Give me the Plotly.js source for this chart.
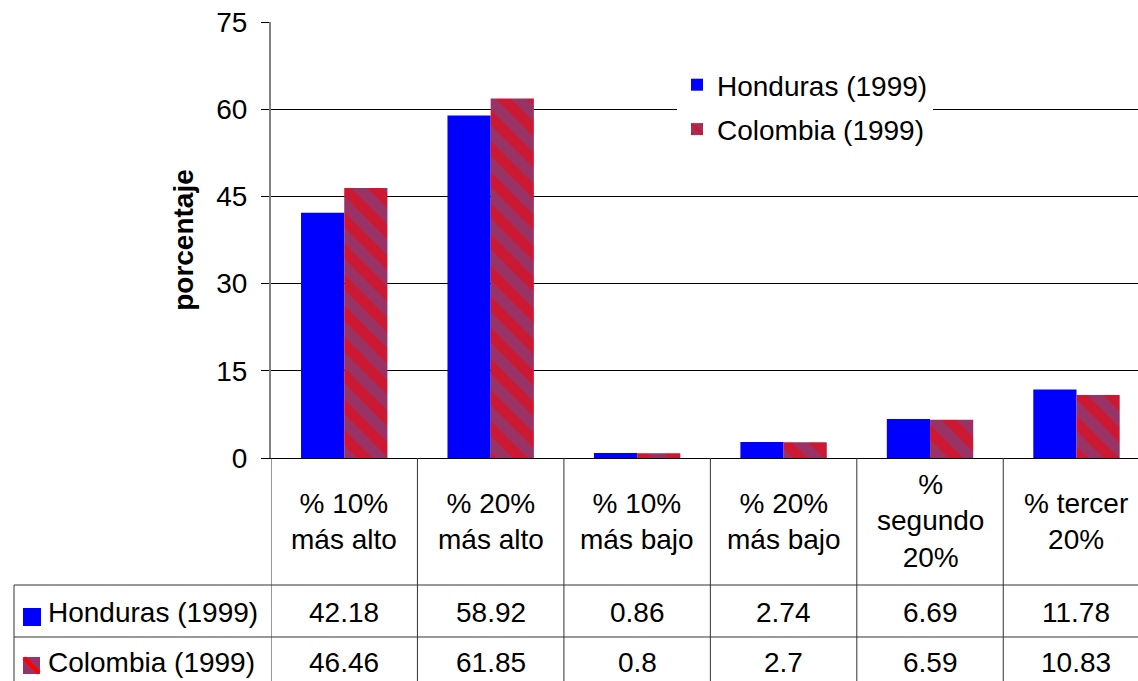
<!DOCTYPE html>
<html>
<head>
<meta charset="utf-8">
<script src="https://cdn.plot.ly/plotly-3.0.1.min.js"></script>
<style>html,body{margin:0;padding:0;background:#fff;}#chart{width:1138px;height:681px;}</style>
</head>
<body>
<div id="chart"></div>
<script>
const categories = ["% 10%<br>más alto", "% 20%<br>más alto", "% 10%<br>más bajo", "% 20%<br>más bajo", "%<br>segundo<br>20%", "% tercer<br>20%"];
const seriesNames = ["Honduras (1999)", "Colombia (1999)"];
const honduras = [42.18, 58.92, 0.86, 2.74, 6.69, 11.78];
const colombia = [46.46, 61.85, 0.8, 2.7, 6.59, 10.83];
const yTicks = [0, 15, 30, 45, 60, 75];
const yTitle = "porcentaje";

// layout geometry (pixels)
const W = 1138, H = 681;
const L = 271, T = 22, B = 458;
const PW = W - L, PH = B - T;
const px = X => (X - L) / PW;
const py = Y => (B - Y) / PH;

const FONT = "Liberation Sans, Arial, sans-serif";
const FS = 28;
const lineColor = "#333333";

const traces = [
  {
    type: "bar", name: seriesNames[0], x: categories, y: honduras,
    marker: {color: "#0000FF", line: {width: 0}},
    legendgroup: "a"
  },
  {
    type: "bar", name: seriesNames[1], x: categories, y: colombia,
    marker: {color: "#993366", line: {width: 0},
      pattern: {shape: "\\", fgcolor: "#FF0000", bgcolor: "#993366", size: 22, solidity: 0.5, fillmode: "overlay"}},
    legendgroup: "b"
  }
];

const shapes = [];
const lineStyle = {color: lineColor, width: 1};
// table horizontal lines
[585, 637].forEach(Y => shapes.push({type: "line", xref: "paper", yref: "paper", x0: px(14), x1: 1, y0: py(Y), y1: py(Y), line: lineStyle, layer: "above"}));
// table vertical lines at category boundaries
for (let i = -1; i < categories.length - 1; i++) {
  shapes.push({type: "line", xref: "x", yref: "paper", x0: i + 0.5, x1: i + 0.5, y0: 0, y1: py(700), line: lineStyle, layer: "above"});
}
// left border of series rows
shapes.push({type: "line", xref: "paper", yref: "paper", x0: px(14), x1: px(14), y0: py(585), y1: py(700), line: lineStyle, layer: "above"});
// legend keys in table
shapes.push({type: "rect", xref: "paper", yref: "paper", x0: px(23), x1: px(41), y0: py(626), y1: py(608), fillcolor: "#0000FF", line: {width: 0}});
shapes.push({type: "rect", xref: "paper", yref: "paper", x0: px(23), x1: px(40), y0: py(674), y1: py(657), fillcolor: "#993366", line: {width: 0}});
shapes.push({type: "line", xref: "paper", yref: "paper", x0: px(24), x1: px(39), y0: py(658), y1: py(673), line: {color: "#FF0000", width: 4}});

const annotations = [];
categories.forEach((c, i) => {
  annotations.push({xref: "x", yref: "paper", x: i, y: py(521), text: c, showarrow: false, xanchor: "center", yanchor: "middle", align: "center", font: {family: FONT, size: FS, color: "#000"}});
  annotations.push({xref: "x", yref: "paper", x: i, y: py(612), text: String(honduras[i]), showarrow: false, xanchor: "center", yanchor: "middle", font: {family: FONT, size: FS, color: "#000"}});
  annotations.push({xref: "x", yref: "paper", x: i, y: py(662), text: String(colombia[i]), showarrow: false, xanchor: "center", yanchor: "middle", font: {family: FONT, size: FS, color: "#000"}});
});
annotations.push({xref: "paper", yref: "paper", x: px(46), y: py(612), text: seriesNames[0], showarrow: false, xanchor: "left", yanchor: "middle", font: {family: FONT, size: FS, color: "#000"}});
annotations.push({xref: "paper", yref: "paper", x: px(46), y: py(662), text: seriesNames[1], showarrow: false, xanchor: "left", yanchor: "middle", font: {family: FONT, size: FS, color: "#000"}});

const layout = {
  width: W, height: H,
  margin: {l: L, r: 0, t: T, b: H - B, pad: 0},
  paper_bgcolor: "#fff", plot_bgcolor: "#fff",
  font: {family: FONT, size: FS, color: "#000"},
  barmode: "group", bargap: 0.41, bargroupgap: 0,
  showlegend: true,
  legend: {x: px(677), y: py(60), xanchor: "left", yanchor: "top", bgcolor: "#fff", borderwidth: 0,
    font: {family: FONT, size: FS, color: "#000"}, tracegroupgap: 5, traceorder: "grouped"},
  xaxis: {type: "category", range: [-0.5, 5.42], showticklabels: false, ticks: "", showgrid: false,
    showline: true, linecolor: "#000", linewidth: 1, zeroline: false, fixedrange: true},
  yaxis: {range: [0, 75], tickvals: yTicks, ticktext: yTicks.map(String), ticks: "outside", ticklen: 8, tickcolor: "#000", tickwidth: 1,
    showgrid: true, gridcolor: "#000", gridwidth: 1, showline: true, linecolor: "#808080", linewidth: 2, zeroline: false,
    ticklabelstandoff: 8, tickfont: {family: FONT, size: FS, color: "#000"},
    title: {text: yTitle, font: {family: FONT, size: 28, color: "#000", weight: "bold"}, standoff: 14}},
  shapes: shapes,
  annotations: annotations
};

Plotly.newPlot("chart", traces, layout, {displayModeBar: false, staticPlot: true});
</script>
</body>
</html>
